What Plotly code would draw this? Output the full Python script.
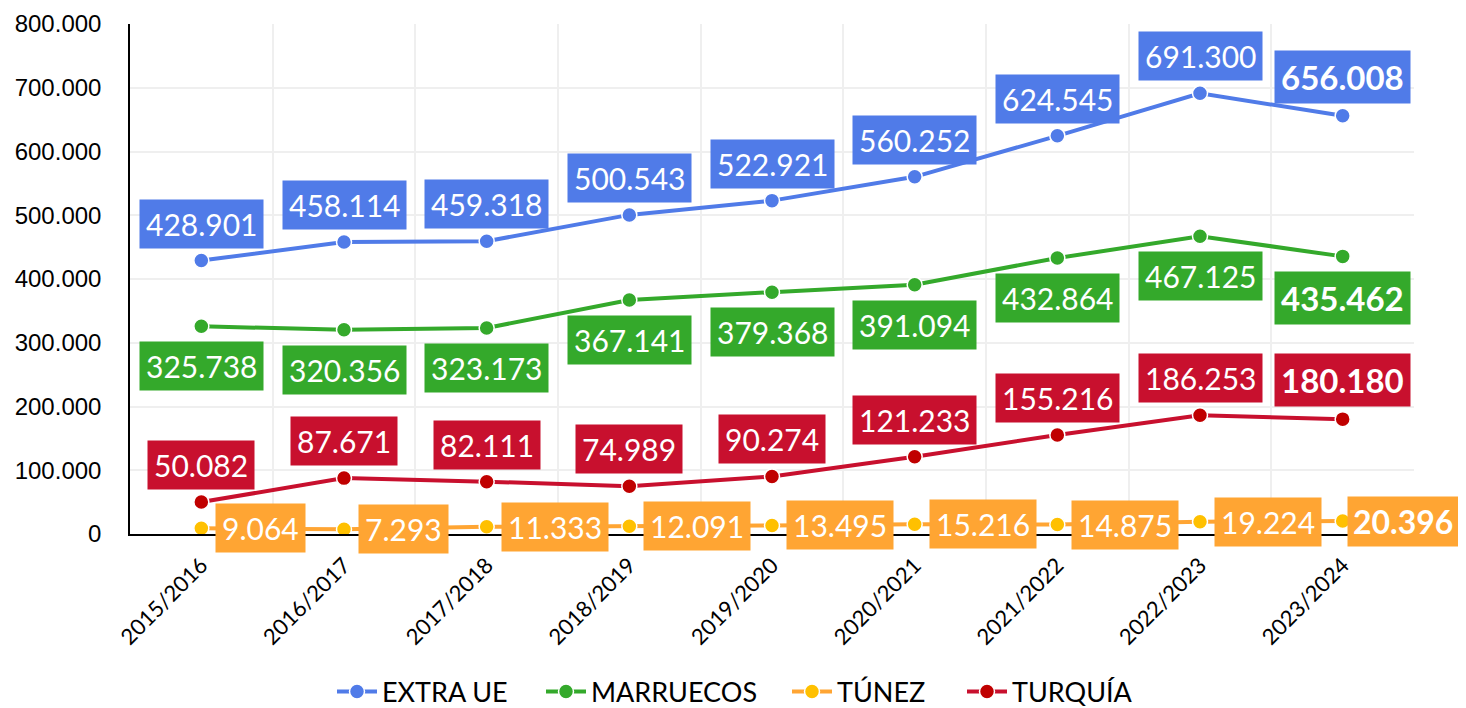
import plotly.graph_objects as go

categories = ["2015/2016", "2016/2017", "2017/2018", "2018/2019", "2019/2020",
              "2020/2021", "2021/2022", "2022/2023", "2023/2024"]
extra_ue = [428901, 458114, 459318, 500543, 522921, 560252, 624545, 691300, 656008]
marruecos = [325738, 320356, 323173, 367141, 379368, 391094, 432864, 467125, 435462]
tunez = [9064, 7293, 11333, 12091, 13495, 15216, 14875, 19224, 20396]
turquia = [50082, 87671, 82111, 74989, 90274, 121233, 155216, 186253, 180180]
y_ticks = [0, 100000, 200000, 300000, 400000, 500000, 600000, 700000, 800000]

series = [
    # name, values, line colour, marker colour, label bg, label placement
    ("EXTRA UE", extra_ue, "#507BE8", "#507BE8", "#507BE8", "above"),
    ("MARRUECOS", marruecos, "#34A92B", "#34A92B", "#34A92B", "below"),
    ("TÚNEZ", tunez, "#FFA533", "#FFC000", "#FFA533", "right"),
    ("TURQUÍA", turquia, "#C8102E", "#C00000", "#C8102E", "above"),
]

# page has an 8px body margin: figure is drawn at (8, 8)
OFF = 8
W, H = 1466 - OFF, 708 - OFF
plot_left, plot_right, plot_top, plot_bottom = 130, 1414, 24, 534   # page pixels
L = plot_left - OFF
T = plot_top - OFF
R = W - (plot_right - OFF)
B = H - (plot_bottom - OFF)
plot_w = plot_right - plot_left
plot_h = plot_bottom - plot_top
legend_sym_px = [337, 546, 792, 967]   # page x where each legend symbol starts
legend_y_px = 692

def fmt(v):
    return f"{v:,}".replace(",", ".")

fig = go.Figure()
annotations = []
label_font = "Lato, Carlito, sans-serif"
legend_layout = {}
for k, (name, vals, lc, mc, bg, place) in enumerate(series):
    lg = "legend" if k == 0 else f"legend{k + 1}"
    fig.add_trace(go.Scatter(
        x=categories, y=vals, name=name, mode="lines+markers",
        line=dict(color=lc, width=4),
        marker=dict(color=mc, size=15, line=dict(color="white", width=1.5)),
        cliponaxis=False, legend=lg,
    ))
    legend_layout[lg] = dict(
        x=(legend_sym_px[k] - 5 - plot_left) / plot_w, xanchor="left",
        y=-(legend_y_px - plot_bottom) / plot_h, yanchor="middle",
        font=dict(family=label_font, size=27, color="black"),
        bgcolor="rgba(0,0,0,0)", itemwidth=40,
    )
    for i, (c, v) in enumerate(zip(categories, vals)):
        last = i == len(vals) - 1
        txt = f"<b>{fmt(v)}</b>" if last else fmt(v)
        a = dict(x=c, y=v, xref="x", yref="y", text=txt, showarrow=False,
                 bgcolor=bg, borderpad=6,
                 font=dict(family=label_font, size=33 if last else 30, color="white"))
        if place == "above":
            a.update(yanchor="bottom", yshift=12, xanchor="center")
        elif place == "below":
            a.update(yanchor="top", yshift=-15, xanchor="center")
        else:
            if last:
                a.update(xanchor="left", xshift=4, yanchor="middle", borderpad=5,
                         font=dict(family=label_font, size=32, color="white"))
            else:
                a.update(xanchor="left", xshift=14, yanchor="middle")
        annotations.append(a)

fig.update_layout(
    width=W, height=H,
    margin=dict(l=L, r=R, t=T, b=B, autoexpand=False),
    plot_bgcolor="white", paper_bgcolor="white",
    separators=",.",
    annotations=annotations,
    showlegend=True,
    xaxis=dict(type="category", tickson="boundaries", showgrid=True, automargin=False,
               range=[-0.5, len(categories) - 0.5],
               gridcolor="#EFEFEF", gridwidth=2, showline=True, linecolor="black",
               linewidth=1.5, tickangle=-45, ticks="",
               tickfont=dict(family=label_font, size=22, color="black"),
               ticklabelstandoff=8),
    yaxis=dict(range=[0, 800000], tickvals=y_ticks, tickformat=",d", automargin=False,
               showgrid=True, gridcolor="#EFEFEF", gridwidth=2,
               showline=True, linecolor="black", linewidth=1.5, zeroline=False,
               ticks="", ticklabelstandoff=22,
               tickfont=dict(family="Liberation Sans, Arial, sans-serif", size=24, color="black")),
    **legend_layout,
)

fig.write_html("out.html")
